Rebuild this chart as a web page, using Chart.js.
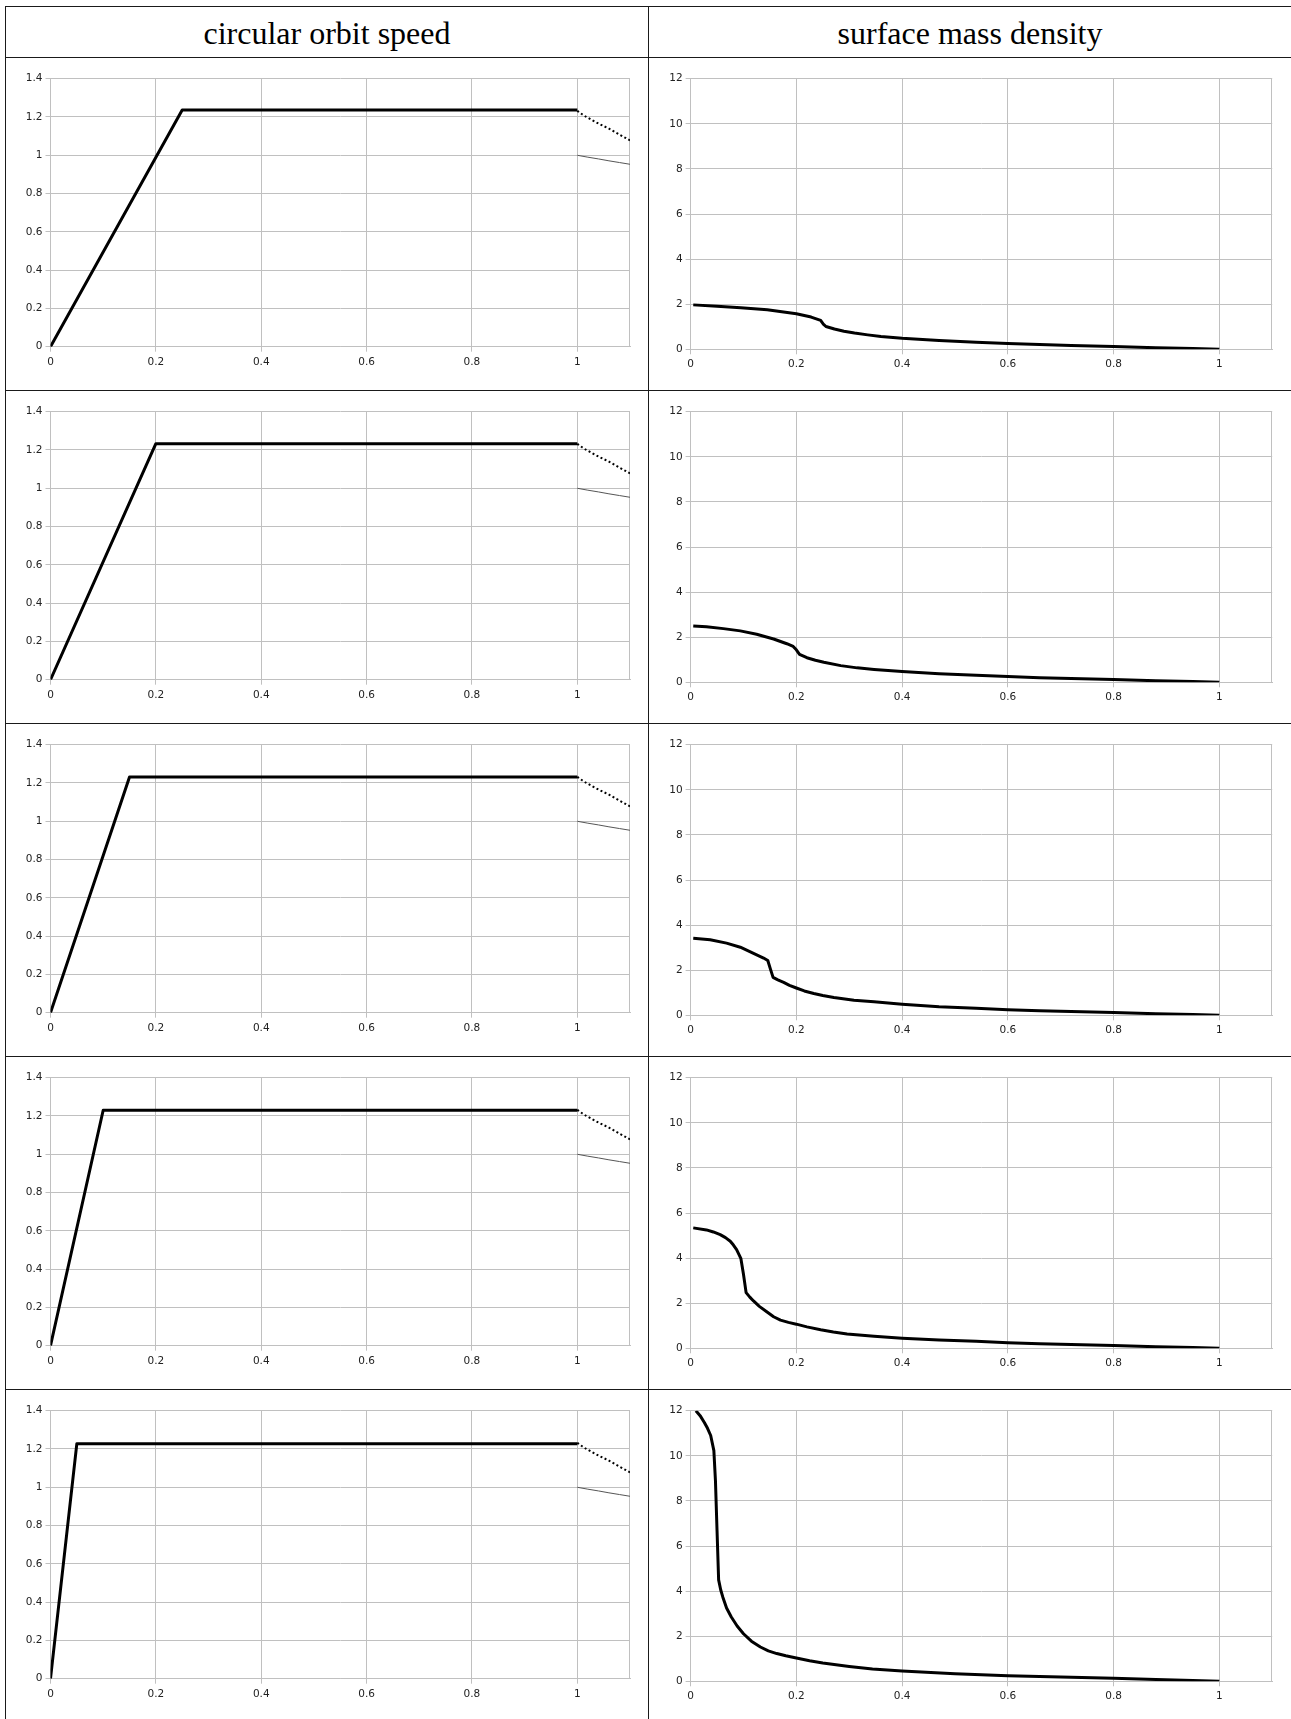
<!DOCTYPE html>
<html>
<head>
<meta charset="utf-8">
<script src="https://cdn.jsdelivr.net/npm/chart.js@4.4.1/dist/chart.umd.min.js"></script>
<style>
html,body{margin:0;padding:0;background:#fff;}
#page{position:relative;width:1291px;height:1719px;overflow:hidden;background:#fff;}
.hl{position:absolute;left:5px;width:1300px;height:1px;background:#1a1a1a;}
.vl{position:absolute;top:6px;width:1px;height:1720px;background:#1a1a1a;}
.head{position:absolute;top:17px;width:642px;font-family:"Liberation Serif",serif;font-size:32px;line-height:32px;text-align:center;color:#000;white-space:nowrap;}
canvas{position:absolute;}
</style>
</head>
<body>
<div id="page">
  <div class="hl" style="top:6px"></div>
  <div class="hl" style="top:57px"></div>
  <div class="hl" style="top:390px"></div>
  <div class="hl" style="top:723px"></div>
  <div class="hl" style="top:1056px"></div>
  <div class="hl" style="top:1389px"></div>
  <div class="vl" style="left:5px"></div>
  <div class="vl" style="left:648px"></div>
  <div class="head" id="h1" style="left:6px"></div>
  <div class="head" id="h2" style="left:649px"></div>
</div>
<script>
// ---------- titles ----------
const columnTitles = ['circular orbit speed', 'surface mass density'];

// ---------- tick labels ----------
const xTickValues = [0, 0.2, 0.4, 0.6, 0.8, 1];
const xTickLabels = ['0', '0.2', '0.4', '0.6', '0.8', '1'];
const speedTickValues = [0, 0.2, 0.4, 0.6, 0.8, 1, 1.2, 1.4];
const speedTickLabels = ['0', '0.2', '0.4', '0.6', '0.8', '1', '1.2', '1.4'];
const densityTickValues = [0, 2, 4, 6, 8, 10, 12];
const densityTickLabels = ['0', '2', '4', '6', '8', '10', '12'];

// ---------- circular orbit speed (left column) ----------
const coreRadius = [0.25, 0.2, 0.15, 0.1, 0.05];
const flatSpeed = [1.236, 1.233, 1.231, 1.230, 1.228];
// dotted continuation beyond the disk edge
const tailR = [1, 1.01, 1.02, 1.04, 1.06, 1.08, 1.1];
const tailV = [1.232, 1.212, 1.196, 1.166, 1.139, 1.108, 1.078];
// thin reference line beyond the edge
const keplerR = [1, 1.02, 1.04, 1.06, 1.08, 1.1];
const keplerV = [1.0, 0.990, 0.981, 0.971, 0.962, 0.953];

// ---------- surface mass density (right column) ----------
const density1R = [0.005, 0.05, 0.095, 0.145, 0.2, 0.228, 0.246, 0.251, 0.256, 0.272, 0.29, 0.31, 0.335, 0.36, 0.4, 0.47, 0.54, 0.6, 0.66, 0.72, 0.8, 0.88, 0.95, 1.0];
const density1S = [1.97, 1.91, 1.84, 1.75, 1.58, 1.43, 1.28, 1.12, 1.01, 0.90, 0.80, 0.72, 0.64, 0.57, 0.49, 0.39, 0.31, 0.26, 0.21, 0.17, 0.12, 0.07, 0.04, 0.0];

const density2R = [0.005, 0.03, 0.062, 0.094, 0.125, 0.157, 0.182, 0.194, 0.2, 0.206, 0.22, 0.236, 0.252, 0.284, 0.315, 0.347, 0.4, 0.47, 0.54, 0.6, 0.66, 0.72, 0.8, 0.88, 0.95, 1.0];
const density2S = [2.50, 2.46, 2.38, 2.28, 2.13, 1.92, 1.71, 1.59, 1.44, 1.24, 1.09, 0.98, 0.89, 0.74, 0.64, 0.57, 0.48, 0.38, 0.31, 0.26, 0.20, 0.17, 0.12, 0.07, 0.04, 0.0];

const density3R = [0.005, 0.037, 0.068, 0.094, 0.119, 0.138, 0.146, 0.151, 0.156, 0.165, 0.176, 0.187, 0.2, 0.215, 0.233, 0.25, 0.271, 0.309, 0.347, 0.4, 0.47, 0.54, 0.6, 0.66, 0.72, 0.8, 0.88, 0.95, 1.0];
const density3S = [3.42, 3.35, 3.20, 3.02, 2.75, 2.54, 2.43, 2.05, 1.68, 1.57, 1.46, 1.33, 1.21, 1.08, 0.97, 0.88, 0.79, 0.67, 0.60, 0.49, 0.38, 0.31, 0.25, 0.20, 0.17, 0.12, 0.07, 0.04, 0.0];

const density4R = [0.005, 0.03, 0.043, 0.056, 0.066, 0.075, 0.081, 0.087, 0.095, 0.1, 0.105, 0.112, 0.119, 0.13, 0.144, 0.157, 0.17, 0.185, 0.2, 0.22, 0.246, 0.27, 0.296, 0.347, 0.4, 0.47, 0.54, 0.6, 0.66, 0.72, 0.8, 0.88, 0.95, 1.0];
const density4S = [5.34, 5.25, 5.16, 5.04, 4.91, 4.75, 4.58, 4.38, 3.99, 3.28, 2.47, 2.27, 2.10, 1.86, 1.62, 1.40, 1.25, 1.15, 1.07, 0.95, 0.82, 0.72, 0.63, 0.53, 0.45, 0.37, 0.31, 0.25, 0.20, 0.17, 0.12, 0.07, 0.04, 0.0];

const density5R = [0.01, 0.018, 0.026, 0.032, 0.038, 0.044, 0.047, 0.05, 0.053, 0.057, 0.061, 0.068, 0.077, 0.088, 0.1, 0.115, 0.132, 0.147, 0.163, 0.18, 0.2, 0.225, 0.25, 0.3, 0.344, 0.4, 0.5, 0.6, 0.7, 0.8, 0.88, 0.95, 1.0];
const density5S = [12.0, 11.78, 11.48, 11.22, 10.9, 10.23, 8.9, 6.69, 4.50, 4.05, 3.73, 3.25, 2.85, 2.45, 2.11, 1.78, 1.52, 1.35, 1.23, 1.13, 1.03, 0.91, 0.81, 0.66, 0.55, 0.46, 0.34, 0.25, 0.19, 0.14, 0.08, 0.04, 0.0];

const densityR = [density1R, density2R, density3R, density4R, density5R];
const densityS = [density1S, density2S, density3S, density4S, density5S];

// ---------- layout ----------
const rowCanvasTop = [59, 392, 725, 1058, 1391];
const gridColor = '#c0c0c0';
const labelColor = '#222';
const tickFont = {family: 'DejaVu Sans', size: 10.5};

document.getElementById('h1').textContent = columnTitles[0];
document.getElementById('h2').textContent = columnTitles[1];

const zip = (xs, ys) => xs.map((x, i) => ({x: x, y: ys[i]}));

const frameRight = {
  id: 'frameRight',
  beforeDatasetsDraw(chart) {
    const ctx = chart.ctx, a = chart.chartArea;
    ctx.save();
    ctx.strokeStyle = gridColor;
    ctx.lineWidth = 1;
    const x = Math.round(a.right) - 0.5;
    ctx.beginPath();
    ctx.moveTo(x, a.top);
    ctx.lineTo(x, a.bottom);
    ctx.stroke();
    ctx.restore();
  }
};

function xScale() {
  return {
    type: 'linear', min: 0, max: 1.1,
    afterBuildTicks: s => { s.ticks = xTickValues.map(v => ({value: v})); },
    afterFit: s => { s.height = 30; },
    ticks: {callback: (v, i) => xTickLabels[i], color: labelColor, font: tickFont, padding: 4, maxRotation: 0, autoSkip: false},
    grid: {color: gridColor, lineWidth: 1, tickLength: 5, tickColor: gridColor},
    border: {color: gridColor, width: 1}
  };
}
function yScale(max, values, labels, width) {
  return {
    type: 'linear', min: 0, max: max,
    afterBuildTicks: s => { s.ticks = values.map(v => ({value: v})); },
    afterFit: s => { s.width = width; },
    ticks: {callback: (v, i) => labels[i], color: labelColor, font: tickFont, padding: 3, autoSkip: false},
    grid: {color: gridColor, lineWidth: 1, tickLength: 5, tickColor: gridColor},
    border: {color: gridColor, width: 1}
  };
}

function makeCanvas(left, top, w, h) {
  const c = document.createElement('canvas');
  c.width = w; c.height = h;
  c.style.left = left + 'px'; c.style.top = top + 'px';
  c.style.width = w + 'px'; c.style.height = h + 'px';
  document.getElementById('page').appendChild(c);
  return c;
}

for (let i = 0; i < 5; i++) {
  // left: circular orbit speed
  const c1 = makeCanvas(8, rowCanvasTop[i], 630, 328);
  new Chart(c1, {
    type: 'line',
    data: {
      datasets: [
        {data: zip([0, coreRadius[i], 1], [0, flatSpeed[i], flatSpeed[i]]), borderColor: '#000', borderWidth: 3, tension: 0, pointRadius: 0, borderJoinStyle: 'round'},
        {data: zip(tailR, tailV), borderColor: '#000', borderWidth: 2, borderDash: [2, 2.5], cubicInterpolationMode: 'monotone', pointRadius: 0},
        {data: zip(keplerR, keplerV), borderColor: '#555', borderWidth: 1, cubicInterpolationMode: 'monotone', pointRadius: 0}
      ]
    },
    options: {
      responsive: false, animation: false, devicePixelRatio: 1,
      layout: {padding: {left: 0, right: 8, top: 19.7, bottom: 10.3}},
      plugins: {legend: {display: false}, tooltip: {enabled: false}},
      scales: {x: xScale(), y: yScale(1.4, speedTickValues, speedTickLabels, 42.5)}
    },
    plugins: [frameRight]
  });

  // right: surface mass density
  const c2 = makeCanvas(652, rowCanvasTop[i], 639, 328);
  new Chart(c2, {
    type: 'line',
    data: {
      datasets: [
        {data: zip(densityR[i], densityS[i]), borderColor: '#000', borderWidth: 3, tension: 0, pointRadius: 0, borderJoinStyle: 'round'}
      ]
    },
    options: {
      responsive: false, animation: false, devicePixelRatio: 1,
      layout: {padding: {left: 0, right: 18.8, top: 19.7, bottom: 7.7}},
      plugins: {legend: {display: false}, tooltip: {enabled: false}},
      scales: {x: xScale(), y: yScale(12, densityTickValues, densityTickLabels, 38.6)}
    },
    plugins: [frameRight]
  });
}
</script>
</body>
</html>
